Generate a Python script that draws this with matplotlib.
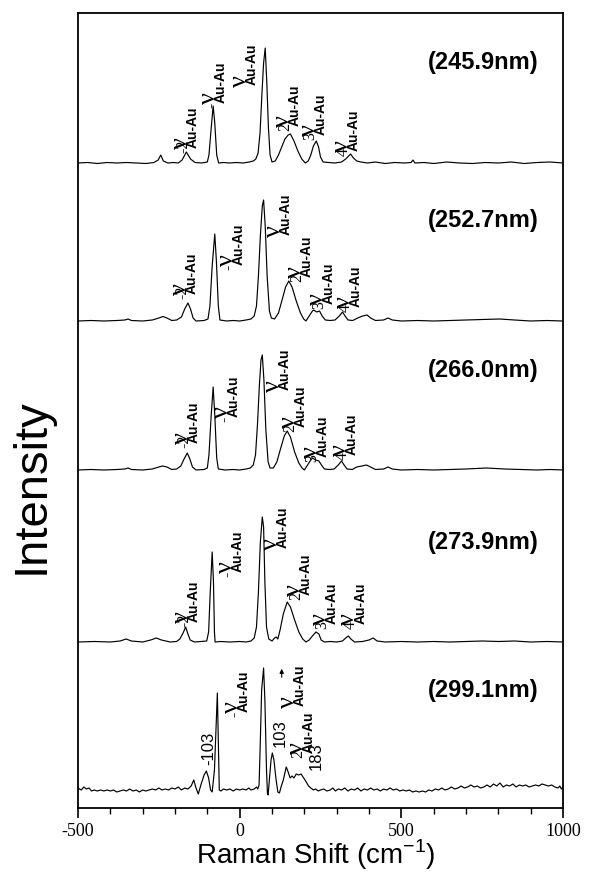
import matplotlib.pyplot as plt
from matplotlib.ticker import MultipleLocator

plt.rcParams['font.family'] = 'Liberation Sans'
plt.rcParams['mathtext.fontset'] = 'custom'
plt.rcParams['mathtext.rm'] = 'Liberation Sans'
plt.rcParams['axes.unicode_minus'] = False

# Data: (Raman shift cm-1, intensity above baseline)
wavelengths = ['(245.9nm)', '(252.7nm)', '(266.0nm)', '(273.9nm)', '(299.1nm)']
offsets = [645, 487, 338, 166, 18]

spec_2459 = [(-500, 0), (-470, 0.5), (-440, -0.5), (-410, 0.5), (-380, 0), (-350, 0.5), (-320, 0), (-290, -0.5),
             (-265, 0.5), (-252, 3), (-244, 8), (-236, 2), (-222, 0), (-205, 0.5), (-190, 0), (-178, 3), (-165, 11),
             (-152, 4), (-138, 0.5), (-118, 0), (-100, 1), (-95, 8), (-88, 35), (-82, 57), (-77, 40), (-71, 8),
             (-65, 0), (-50, 0.5), (-30, 0), (-10, 0.5), (10, 0), (30, 1), (42, 2), (50, 4), (57, 10), (63, 30),
             (69, 70), (74, 100), (79, 115), (84, 80), (89, 35), (94, 8), (100, 1), (110, 2), (120, 8), (130, 16),
             (140, 24), (150, 28), (157, 29), (168, 22), (180, 12), (192, 4), (203, 0), (212, 2), (220, 8),
             (228, 17), (237, 22), (244, 16), (250, 6), (258, 1), (275, 0.5), (295, 0), (315, 1), (328, 4),
             (343, 9), (352, 5), (362, 2), (375, 1), (395, 0), (420, 1), (450, -0.5), (480, 0.5), (510, 0),
             (530, 0.5), (536, 3), (542, 0), (570, 0.5), (600, -0.5), (640, 1), (680, 0), (720, -0.5), (760, 0.5),
             (800, 0), (840, 1), (880, -0.5), (920, 0.5), (960, 1), (1000, 0)]

spec_2527 = [(-500, 0), (-460, 0.5), (-420, 0), (-380, 0.5), (-355, 1), (-345, 2), (-335, 0.5), (-300, 0),
             (-270, 1), (-250, 3), (-237, 4.5), (-225, 3), (-210, 0.5), (-195, 1), (-180, 4), (-170, 12),
             (-160, 18), (-152, 12), (-144, 3), (-135, 0), (-110, 0.5), (-98, 2), (-92, 15), (-85, 55), (-77, 87),
             (-72, 60), (-66, 15), (-61, 1), (-40, 0), (-20, 0.5), (0, 0), (20, 1), (35, 2), (45, 5), (52, 15),
             (58, 45), (64, 85), (70, 115), (74, 121), (79, 95), (85, 45), (92, 10), (98, 3), (108, 2), (120, 8),
             (132, 22), (142, 34), (152, 40), (162, 34), (175, 20), (188, 8), (198, 2), (205, 0), (215, 5),
             (225, 10), (229, 11), (238, 9), (247, 10), (255, 5), (265, 1), (280, 0.5), (295, 1), (308, 5),
             (318, 9), (326, 5), (335, 1), (350, 0.5), (365, 3), (380, 5), (394, 6), (405, 3), (420, 0.5),
             (445, 1), (459, 3), (472, 1), (500, 0), (550, 0.5), (600, 0), (650, 0.5), (700, 1), (750, 1.5),
             (804, 2), (850, 1), (900, 0), (950, 0.5), (1000, 0)]

spec_2660 = [(-500, 0), (-460, 0.5), (-420, 0), (-380, 0.5), (-355, 1), (-345, 2), (-335, 0.5), (-300, 0),
             (-270, 1), (-250, 3), (-239, 4), (-225, 3), (-210, 0.5), (-195, 1), (-182, 4), (-172, 11),
             (-162, 17), (-154, 11), (-146, 3), (-135, 0), (-110, 0.5), (-100, 2), (-95, 15), (-88, 55), (-82, 83),
             (-77, 55), (-71, 12), (-66, 1), (-45, 0), (-20, 0.5), (0, 0), (20, 1), (33, 2), (42, 5), (49, 15),
             (55, 45), (61, 85), (66, 110), (70, 115), (75, 90), (81, 40), (88, 8), (94, 2), (104, 2), (115, 8),
             (127, 22), (138, 34), (147, 39), (157, 33), (170, 18), (183, 7), (193, 2), (200, 0), (210, 5),
             (220, 10), (225, 12), (235, 10), (245, 9), (253, 5), (262, 1), (278, 0.5), (292, 1), (305, 5),
             (315, 9), (323, 5), (332, 1), (348, 0.5), (362, 3), (378, 4), (392, 5), (405, 3), (420, 0.5),
             (445, 1), (459, 3), (472, 1), (500, 0), (550, 0.5), (600, 0), (650, 0.5), (700, 1), (763, 2),
             (820, 1), (870, 0.5), (920, 0), (960, 0.5), (1000, 0)]

spec_2739 = [(-500, 0), (-450, 0.5), (-400, 0), (-370, 1), (-351, 3), (-335, 1), (-300, 0), (-275, 2), (-258, 4),
             (-242, 2), (-215, 0), (-195, 0.5), (-185, 3), (-175, 9), (-167, 15), (-160, 8), (-153, 2), (-140, 0),
             (-120, 0.5), (-102, 1), (-96, 10), (-91, 50), (-85, 90), (-81, 60), (-78, 10), (-76, 0), (-60, 0.5),
             (-30, 0), (0, 0.5), (20, 0), (35, 1), (45, 4), (52, 15), (58, 50), (64, 100), (70, 125), (74, 115),
             (78, 60), (83, 15), (90, 3), (100, 1), (108, 4), (113, 5), (118, 3), (125, 12), (135, 28), (147, 40),
             (157, 35), (170, 22), (183, 10), (195, 3), (205, 0), (215, 2), (225, 6), (236, 10), (245, 8),
             (252, 2), (262, 0), (280, 0.5), (300, 0), (318, 1), (328, 4), (336, 6), (344, 3), (355, 0),
             (380, 0.5), (400, 2), (413, 4), (425, 1), (450, 0), (500, 0.5), (550, 0), (600, 0.5), (650, 0),
             (700, 0.5), (750, 1), (800, 0.5), (850, 1), (900, 0), (950, 0.5), (1000, 0)]

spec_2991 = [(-500, 2), (-490, 0), (-482, 3), (-474, 1), (-466, 2), (-458, -1), (-450, 0), (-440, -1), (-430, 0),
             (-420, -1), (-410, 0), (-400, -1), (-390, 0), (-380, -2), (-370, -1), (-360, 0), (-350, -1),
             (-340, 1), (-330, -1), (-320, 0), (-310, -2), (-300, 0), (-290, -1), (-280, 0), (-270, 1), (-260, 0),
             (-250, 2), (-240, 0), (-230, 1), (-220, 0), (-210, 2), (-200, 1), (-190, 3), (-180, 0), (-170, 2),
             (-160, 1), (-150, 4), (-142, 10), (-135, 2), (-128, -4), (-120, 5), (-110, 15), (-103, 19), (-96, 12),
             (-90, 0), (-85, -2), (-78, 20), (-72, 70), (-69, 97), (-66, 50), (-63, 0), (-58, -1), (-50, 1),
             (-40, 0), (-30, 1), (-20, -1), (-10, 1), (0, 0), (10, 1), (20, 0), (28, 2), (35, 0), (45, 1), (52, 3),
             (56, 1), (60, 5), (64, 50), (68, 100), (74, 122), (78, 90), (83, 20), (86, -4), (88, -5), (92, 10),
             (97, 30), (101, 37), (106, 30), (112, 12), (118, -2), (123, -3), (128, 3), (135, 10), (144, 23),
             (150, 18), (156, 12), (162, 14), (168, 12), (175, 16), (182, 15), (190, 16), (198, 12), (206, 8),
             (213, 4), (220, 2), (228, 0), (235, 1), (243, -1), (250, 0), (260, 1), (270, -1), (280, 0), (288, 2),
             (296, -1), (305, 1), (315, 0), (325, 2), (335, -1), (345, 1), (355, 0), (365, 2), (375, -1), (385, 1),
             (395, 0), (405, 2), (415, 0), (425, 1), (435, -1), (445, 1), (455, 0), (465, 2), (475, 0), (485, 1),
             (495, -1), (505, 0), (515, -1), (525, 0), (535, -2), (545, -1), (555, -2), (565, -1), (575, -2),
             (585, 0), (595, -1), (605, 1), (615, 0), (625, 2), (635, 0), (645, 1), (655, 3), (665, 1), (675, 2),
             (685, 4), (695, 2), (705, 3), (715, 5), (725, 3), (735, 4), (745, 2), (755, 3), (765, 5), (775, 3),
             (785, 6), (795, 4), (805, 7), (815, 3), (825, 5), (835, 4), (845, 6), (855, 3), (865, 5), (875, 4),
             (885, 5), (895, 3), (905, 4), (915, 5), (925, 4), (935, 6), (945, 5), (955, 4), (965, 5), (975, 3),
             (985, 2), (990, 4), (995, 1), (1000, 3)]

spectra = [spec_2459, spec_2527, spec_2660, spec_2739, spec_2991]

# peak labels: (prefix, baseline x, height above baseline where the label starts)
labels_2459 = [('-2', -162, 10), ('-', -76, 55), ('', 20, 76), ('2', 153, 32), ('3', 232, 23), ('4', 335, 7)]
labels_2527 = [('-2', -165, 22), ('-', -21, 51), ('', 124, 84), ('2', 190, 39), ('3', 258, 12), ('4', 340, 9)]
labels_2660 = [('-2', -160, 22), ('-', -35, 48), ('', 122, 78), ('2', 170, 38), ('3', 238, 8), ('4', 330, 10)]
labels_2739 = [('-2', -160, 15), ('-', -25, 65), ('', 115, 92), ('2', 187, 42), ('3', 268, 13), ('4', 355, 13)]
labels_2991 = [('-', -4, 73), ('', 168, 82), ('2', 195, 32)]
peak_labels = [labels_2459, labels_2527, labels_2660, labels_2739, labels_2991]

# plain number labels of the 299.1 nm spectrum
num_labels_2991 = [('-103', -83, 25), ('103', 138, 43), ('183', 252, 20)]

fig = plt.figure(figsize=(6.02, 8.74), dpi=100)
ax = fig.add_axes([78 / 602, 1 - 808 / 874, 485 / 602, 795 / 874])

for spec, off in zip(spectra, offsets):
    xs = [p[0] for p in spec]
    ys = [p[1] + off for p in spec]
    ax.plot(xs, ys, color='black', linewidth=0.85)

for name, off in zip(wavelengths, offsets):
    ax.text(925, off + 100, name, ha='right', va='center', fontsize=17, fontweight='bold')

renderer = fig.canvas.get_renderer()


def rot_text(s, x, y, dx, dy, **kw):
    # text running upwards, anchored at the start of its baseline
    t = ax.annotate(s, xy=(x, y), xytext=(dx, dy), textcoords='offset points', rotation=90,
                    rotation_mode='anchor', ha='left', va='baseline', **kw)
    return t.get_window_extent(renderer).height * 72 / fig.dpi


for labs, off in zip(peak_labels, offsets):
    for prefix, x, y in labs:
        dy = 0.0
        if prefix:
            dy = rot_text(prefix, x, off + y, 0, 0, fontsize=11.5, family='Liberation Serif') + 2
        dy += rot_text('\u03bd', x, off + y, 0, dy, fontsize=19, family='Liberation Serif')
        rot_text('Au-Au', x, off + y, 7, dy + 0.5, fontsize=10, fontweight='bold')

for txt, x, y in num_labels_2991:
    rot_text(txt, x, offsets[4] + y, 0, 0, fontsize=12)
ax.annotate('', xy=(130, offsets[4] + 124), xytext=(130, offsets[4] + 110),
            arrowprops=dict(arrowstyle='-|>', lw=0.8, color='black', mutation_scale=6))

ax.set_xlim(-500, 1000)
ax.set_ylim(0, 795)
ax.set_yticks([])
ax.xaxis.set_major_locator(MultipleLocator(500))
ax.xaxis.set_minor_locator(MultipleLocator(100))
ax.tick_params(axis='x', which='major', direction='out', length=7, width=1.2, labelsize=13, pad=4,
               labelfontfamily='Liberation Serif')
ax.tick_params(axis='x', which='minor', direction='out', length=4, width=1.0)
for s in ax.spines.values():
    s.set_linewidth(1.3)

fig.text(0.053, 0.444, 'Intensity', rotation=90, ha='center', va='center', fontsize=34)
fig.text(0.525, 0.022, r'Raman Shift (cm$^{-1}$)', ha='center', va='center', fontsize=20)

fig.savefig('out.png', dpi=100)
